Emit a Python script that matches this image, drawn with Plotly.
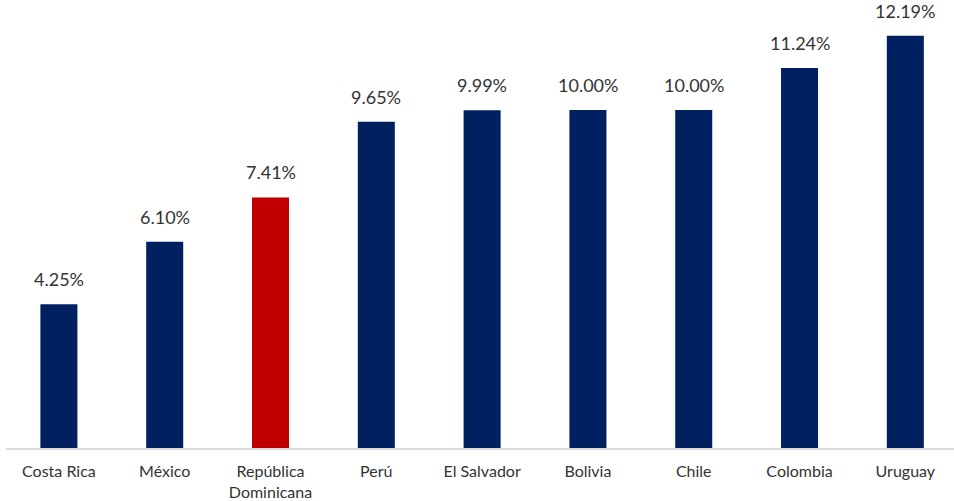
import plotly.graph_objects as go

countries = ["Costa Rica", "México", "República<br>Dominicana", "Perú", "El Salvador",
             "Bolivia", "Chile", "Colombia", "Uruguay"]
rates = [4.25, 6.10, 7.41, 9.65, 9.99, 10.00, 10.00, 11.24, 12.19]
highlight = "República<br>Dominicana"

NAVY = "#002060"
RED = "#C00000"
FONT = "Lato, Noto Sans, sans-serif"
TEXT = "#333333"
colors = [RED if c == highlight else NAVY for c in countries]

fig = go.Figure(
    go.Bar(
        x=countries,
        y=rates,
        marker=dict(color=colors, line=dict(width=0)),
        cliponaxis=False,
    )
)

# value labels above each bar
for c, v in zip(countries, rates):
    fig.add_annotation(
        x=c, y=v, text=f"{v:.2f}%", showarrow=False,
        yanchor="bottom", yshift=12,
        font=dict(family=FONT, size=18, color=TEXT),
    )

fig.update_layout(
    width=954,
    height=501,
    margin=dict(l=6, r=0, t=0, b=53),
    paper_bgcolor="white",
    plot_bgcolor="white",
    bargap=0.65,
    showlegend=False,
    font=dict(family=FONT, color=TEXT),
)
fig.update_xaxes(
    range=[-0.5, 8.46],
    showline=True,
    linecolor="#D9D9D9",
    linewidth=2,
    showgrid=False,
    ticks="",
    ticklabelstandoff=8,
    tickfont=dict(size=16, color=TEXT),
)
fig.update_yaxes(
    range=[0, 13.25],
    visible=False,
    showgrid=False,
    zeroline=False,
)

fig.write_html("out.html")
